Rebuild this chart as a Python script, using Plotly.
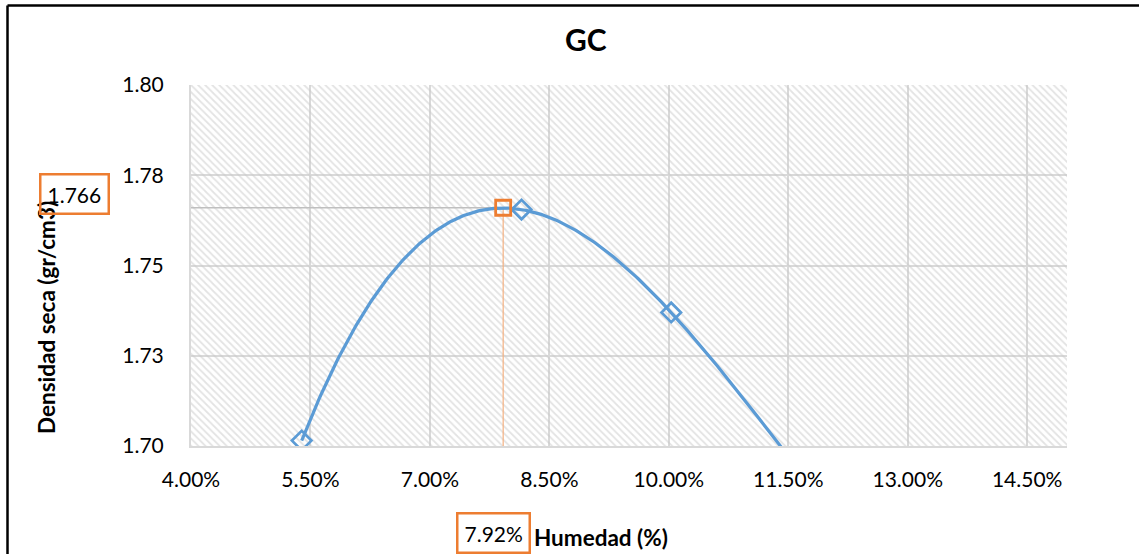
import numpy as np
import plotly.graph_objects as go

# ---- data ----
moisture = [5.39, 8.15, 10.03, 12.0]          # Humedad (%)
density = [1.7015, 1.7655, 1.737, 1.683]      # Densidad seca (gr/cm3)
omc = [7.92]                                   # optimum moisture (%)
mdd = [1.766]                                  # maximum dry density
x_ticks = [4.0, 5.5, 7.0, 8.5, 10.0, 11.5, 13.0, 14.5]
y_ticks = [1.70, 1.725, 1.75, 1.775, 1.80]
y_ticktext = ["1.70", "1.73", "1.75", "1.78", "1.80"]
x_range = [4.0, 15.0]
y_range = [1.70, 1.80]

# polynomial (order 3) trendline of the data, as in the original chart
coef = np.polyfit(moisture, density, 3)
trend_x = np.linspace(min(moisture), max(moisture), 300)
trend_y = np.polyval(coef, trend_x)

W, H = 1139, 554
L, R, T, B = 191, 72, 85, 108
PW, PH = W - L - R, H - T - B


def px(xp):
    return (xp - L) / PW


def py(yp):
    return (H - B - yp) / PH


FONT = "Lato"
BLUE = "#5B9BD5"
ORANGE = "#ED7D31"

fig = go.Figure()

# patterned plot-area background
fig.add_trace(go.Scatter(
    x=[x_range[0], x_range[1], x_range[1], x_range[0], x_range[0]],
    y=[y_range[0], y_range[0], y_range[1], y_range[1], y_range[0]],
    mode="lines", line=dict(width=0), fill="toself",
    fillcolor="rgba(0,0,0,0)",
    fillpattern=dict(shape="\\", fgcolor="#c8c8c8", bgcolor="rgba(0,0,0,0)",
                     size=5, solidity=0.35, fillmode="overlay"),
    hoverinfo="skip", showlegend=False))

# guide lines to the optimum
fig.add_trace(go.Scatter(x=[x_range[0], omc[0]], y=[mdd[0], mdd[0]], mode="lines",
                         line=dict(color="#bfbfbf", width=1.5), showlegend=False,
                         hoverinfo="skip"))
fig.add_trace(go.Scatter(x=[omc[0], omc[0]], y=[y_range[0], mdd[0]], mode="lines",
                         line=dict(color="#F4B183", width=1.2), showlegend=False,
                         hoverinfo="skip"))

# trendline
fig.add_trace(go.Scatter(x=trend_x, y=trend_y, mode="lines",
                         line=dict(color=BLUE, width=3.2), showlegend=False,
                         hoverinfo="skip"))

# data points
fig.add_trace(go.Scatter(x=moisture, y=density, mode="markers",
                         marker=dict(symbol="diamond-open", size=15, color=BLUE,
                                     line=dict(width=2.7, color=BLUE)),
                         showlegend=False))

# optimum point
fig.add_trace(go.Scatter(x=omc, y=mdd, mode="markers",
                         marker=dict(symbol="square-open", size=15, color=ORANGE,
                                     line=dict(width=2.8, color=ORANGE)),
                         showlegend=False))

grid = "#d9d9d9"
fig.update_xaxes(range=x_range, tickvals=x_ticks,
                 ticktext=[f"{v:.2f}%" for v in x_ticks],
                 showgrid=True, gridcolor=grid, gridwidth=2,
                 showline=True, linecolor=grid, linewidth=2,
                 zeroline=False, ticks="", ticklabelstandoff=14,
                 tickfont=dict(family=FONT, size=21, color="#000000"))
fig.update_yaxes(range=y_range, tickvals=y_ticks, ticktext=y_ticktext,
                 showgrid=True, gridcolor=grid, gridwidth=2,
                 showline=True, linecolor=grid, linewidth=2,
                 zeroline=False, ticks="", ticklabelstandoff=21,
                 tickfont=dict(family=FONT, size=21, color="#000000"))

annotations = [
    dict(text="<b>GC</b>", x=px(586), y=py(39), font=dict(family=FONT, size=30, color="#000")),
    dict(text="<b>Densidad seca (gr/cm3)</b>", x=px(46), y=py(318), textangle=-90,
         font=dict(family=FONT, size=22.5, color="#000")),
    dict(text="<b>Humedad (%)</b>", x=px(601), y=py(537),
         font=dict(family=FONT, size=22.5, color="#000")),
    dict(text=f"{omc[0]:.2f}%", x=px(493.5), y=py(532.5), bordercolor=ORANGE,
         borderwidth=2.5, borderpad=6, font=dict(family=FONT, size=21, color="#000")),
    dict(text=f"{mdd[0]:.3f}", x=px(74), y=py(194), bordercolor=ORANGE,
         borderwidth=2.5, borderpad=6, font=dict(family=FONT, size=21, color="#000")),
]
for a in annotations:
    a.update(xref="paper", yref="paper", showarrow=False, xanchor="center", yanchor="middle")

shapes = [
    dict(type="line", xref="paper", yref="paper", x0=px(7.5), x1=px(1145),
         y0=py(5.5), y1=py(5.5), line=dict(color="#000", width=2.5)),
    dict(type="line", xref="paper", yref="paper", x0=px(7.5), x1=px(7.5),
         y0=py(5.5), y1=py(560), line=dict(color="#000", width=2.5)),
]

fig.update_layout(width=W, height=H, margin=dict(l=L, r=R, t=T, b=B),
                  paper_bgcolor="white", plot_bgcolor="white",
                  annotations=annotations, shapes=shapes, showlegend=False,
                  font=dict(family=FONT))

fig.write_html("out.html", config={"displayModeBar": False},
               post_script="document.body.style.margin='0';document.body.style.overflow='hidden';")
